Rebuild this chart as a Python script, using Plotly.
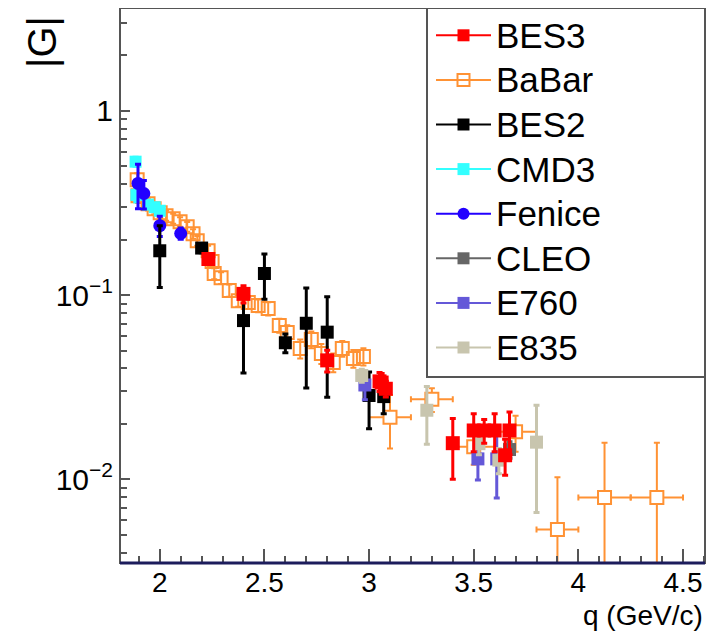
import numpy as np
import plotly.graph_objects as go

# ---------------- data ----------------
bes3_x = [2.2324, 2.40, 2.80, 3.05, 3.06, 3.08, 3.40, 3.50, 3.55, 3.60, 3.65, 3.671]
bes3_y = [0.157, 0.1015, 0.0442, 0.0340, 0.0335, 0.0310, 0.0157, 0.0184, 0.0184, 0.0184, 0.0135, 0.0184]
bes3_ey = [0.006, 0.011, 0.006, 0.004, 0.004, 0.003, 0.0057, 0.0043, 0.0027, 0.0043, 0.003, 0.0048]

babar_x = [1.892, 1.896, 1.944, 1.973, 2.002, 2.030, 2.064, 2.097, 2.131, 2.159, 2.179, 2.231, 2.250,
           2.260, 2.293, 2.332, 2.375, 2.423, 2.470, 2.518, 2.571, 2.609, 2.671, 2.724, 2.772, 2.829,
           2.872, 2.925, 2.973, 3.10, 3.30, 3.50, 3.70, 3.90, 4.125, 4.375]
babar_y = [0.423, 0.346, 0.313, 0.294, 0.280, 0.270, 0.260, 0.250, 0.235, 0.215, 0.197, 0.174, 0.152,
           0.131, 0.124, 0.106, 0.0933, 0.0910, 0.0877, 0.0845, 0.0684, 0.0626, 0.0513, 0.0574, 0.0482,
           0.0431, 0.0513, 0.0453, 0.0464, 0.0217, 0.0272, 0.0150, 0.0181, 0.00534, 0.00796, 0.00796]
babar_ey = [0.035, 0.030, 0.025, 0.020, 0.018, 0.017, 0.016, 0.015, 0.014, 0.013, 0.012, 0.011, 0.010,
            0.009, 0.009, 0.008, 0.007, 0.007, 0.007, 0.007, 0.006, 0.006, 0.006, 0.006, 0.006,
            0.005, 0.005, 0.005, 0.005, 0.007, 0.004, 0.003, 0.004, 0.0049, 0.0078, 0.0078]
babar_ex = [0]*29 + [0.1, 0.1, 0.1, 0.1, 0.1, 0.125, 0.125]

bes2_x = [2.0, 2.2, 2.4, 2.5, 2.6, 2.7, 2.8, 3.0, 3.07]
bes2_y = [0.174, 0.180, 0.0727, 0.131, 0.0551, 0.0703, 0.0629, 0.0285, 0.0281]
bes2_ey = [0.064, 0.010, 0.035, 0.036, 0.0064, 0.039, 0.035, 0.0097, 0.0054]

cmd3_x = [1.8845, 1.888, 1.944, 1.976, 2.0]
cmd3_y = [0.53, 0.35, 0.31, 0.30, 0.287]
cmd3_ey = [0.03, 0.03, 0.015, 0.012, 0.012]

fenice_x = [1.896, 1.924, 2.0, 2.1]
fenice_y = [0.404, 0.356, 0.238, 0.216]
fenice_ey = [0.11, 0.063, 0.03, 0.015]

cleo_x = [3.671]
cleo_y = [0.0145]
cleo_ey = [0.0015]

e760_x = [2.98, 3.52, 3.61]
e760_y = [0.0325, 0.0129, 0.0129]
e760_ey = [0.0055, 0.003, 0.005]

e835_x = [2.965, 3.276, 3.525, 3.62, 3.80]
e835_y = [0.0366, 0.0237, 0.0156, 0.0127, 0.0159]
e835_ey = [0.003, 0.0082, 0.002, 0.002, 0.0093]

x_ticks = [2, 2.5, 3, 3.5, 4, 4.5]
x_ticktext = ["2", "2.5", "3", "3.5", "4", "4.5"]
y_ticks = [0.01, 0.1, 1]
y_ticktext = ["10<sup>−2</sup>", "10<sup>−1</sup>", "1"]

# ---------------- style ----------------
C_BES3 = "#ff0000"
C_BABAR = "#ff9234"
C_BES2 = "#000000"
C_CMD3 = "#33ffff"
C_FEN = "#2200ff"
C_CLEO = "#666666"
C_E760 = "#6458d8"
C_E835 = "#c8c5ae"
FONT = "Liberation Sans, Arial, Helvetica, sans-serif"

fig = go.Figure()


def add(x, y, ey, color, symbol="square", size=13, ew=3, ex=None, fill=None, lcol=None, lw=0):
    fig.add_trace(go.Scatter(
        x=x, y=y, mode="markers", showlegend=False, hoverinfo="x+y",
        marker=dict(symbol=symbol, size=size, color=fill if fill else color,
                    line=dict(color=lcol if lcol else color, width=lw)),
        error_y=dict(type="data", array=ey, color=color, thickness=ew, width=3, visible=True),
        error_x=(dict(type="data", array=ex, color=color, thickness=ew, width=3, visible=True)
                 if ex is not None else None),
    ))


bx = np.array(babar_x); by = np.array(babar_y); bey = np.array(babar_ey); bex = np.array(babar_ex)
lo = bex == 0
hi = ~lo
add(bx[lo], by[lo], bey[lo], C_BABAR, symbol="square-open", size=13, ew=2, lw=2)
add(bx[hi], by[hi], bey[hi], C_BABAR, symbol="square", size=13, ew=2, ex=bex[hi], fill="white", lcol=C_BABAR, lw=2)
add(cmd3_x, cmd3_y, cmd3_ey, C_CMD3, size=12)
add(fenice_x, fenice_y, fenice_ey, C_FEN, symbol="circle", size=13)
add(bes2_x, bes2_y, bes2_ey, C_BES2, size=13)
add(cleo_x, cleo_y, cleo_ey, C_CLEO, size=13)
add(e760_x, e760_y, e760_ey, C_E760, size=13)
add(e835_x, e835_y, e835_ey, C_E835, size=13)
add(bes3_x, bes3_y, bes3_ey, C_BES3, size=14)

# legend-only entries
leg = [("BES3", C_BES3, "square"), ("BaBar", C_BABAR, "square-open"),
       ("BES2", C_BES2, "square"), ("CMD3", C_CMD3, "square"),
       ("Fenice", C_FEN, "circle"), ("CLEO", C_CLEO, "square"),
       ("E760", C_E760, "square"), ("E835", C_E835, "square")]
for name, col, sym in leg:
    fig.add_trace(go.Scatter(
        x=[None], y=[None], mode="lines+markers",
        name='<span style="font-size:35px">%s</span>' % name, showlegend=True,
        line=dict(color=col, width=2),
        marker=dict(symbol=sym, size=12, color=col, line=dict(color=col, width=2 if "open" in sym else 0)),
    ))

# plot geometry (page has an 8px body margin)
OFF = 8
W, H = 715 - OFF, 632 - OFF
L, R, T, B = 112, 10, 0, 69
pw = W - L - R          # 585
ph = H - T - B          # 555
PL, PT, PB = L + OFF, T + OFF, H - B + OFF   # page coords of plot left, top, bottom


def px_x(p):
    return (p - PL) / pw


def px_y(p):
    return (PB - p) / ph


fig.update_layout(
    width=W, height=H,
    margin=dict(l=L, r=R, t=T, b=B, pad=0),
    paper_bgcolor="white", plot_bgcolor="white",
    font=dict(family=FONT, color="black", size=28),
    showlegend=True,
    legend=dict(
        x=px_x(431), y=1, xanchor="left", yanchor="top",
        bgcolor="rgba(255,255,255,0)", borderwidth=0, font=dict(size=32, family=FONT),
        itemwidth=55, tracegroupgap=0, traceorder="normal", maxheight=800,
    ),
    xaxis=dict(
        type="linear", range=[1.81, 4.605], showgrid=False, zeroline=False,
        showline=False, ticks="inside", ticklen=14, tickwidth=2, tickcolor="#555555",
        tickvals=x_ticks, ticktext=x_ticktext, tickfont=dict(size=28),
        minor=dict(ticks="inside", ticklen=7, tickwidth=2, tickcolor="#555555", dtick=0.1, tick0=0),
    ),
    yaxis=dict(
        type="log", range=[np.log10(0.00351), np.log10(3.62)], showgrid=False, zeroline=False,
        showline=False, ticks="inside", ticklen=10, tickwidth=2, tickcolor="#555555",
        tickvals=y_ticks, ticktext=y_ticktext, tickfont=dict(size=30), ticklabelstandoff=6,
        minor=dict(ticks="inside", ticklen=7, tickwidth=2, tickcolor="#555555",
                   tickvals=[k * 10.0 ** e for e in (-3, -2, -1, 0) for k in range(2, 10)]),
    ),
    shapes=[
        dict(type="rect", xref="paper", yref="paper", x0=px_x(427), x1=1,
             y0=px_y(377), y1=1, fillcolor="white", line=dict(color="#555555", width=2), layer="above"),
        dict(type="rect", xref="paper", yref="paper", x0=0, x1=1, y0=0, y1=1,
             line=dict(color="#555555", width=2), layer="above"),
        dict(type="line", xref="paper", yref="paper", x0=0, x1=1, y0=0, y1=0,
             line=dict(color="#1c1c5c", width=3), layer="above"),
    ],
    annotations=[
        dict(text="|G|", xref="paper", yref="paper", x=px_x(42), y=px_y(42),
             xanchor="center", yanchor="middle", textangle=-90, showarrow=False,
             font=dict(size=40, family=FONT)),
        dict(text="q (GeV/c)", xref="paper", yref="paper", x=1, y=0, xanchor="right",
             yanchor="middle", yshift=-52, showarrow=False, font=dict(size=28, family=FONT)),
    ],
)

fig.write_html("out.html")
